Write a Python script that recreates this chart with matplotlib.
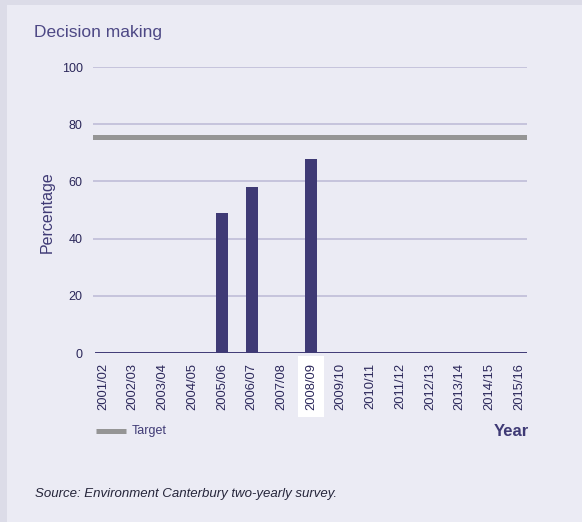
import matplotlib
matplotlib.use("Agg")
import matplotlib.pyplot as plt
from matplotlib.patches import Rectangle
from matplotlib.lines import Line2D

years = ["2001/02", "2002/03", "2003/04", "2004/05", "2005/06", "2006/07", "2007/08",
         "2008/09", "2009/10", "2010/11", "2011/12", "2012/13", "2013/14", "2014/15", "2015/16"]
values = [0, 0, 0, 0, 49, 58, 0, 68, 0, 0, 0, 0, 0, 0, 0]
target = 75.5
yticks = [0, 20, 40, 60, 80, 100]
highlight = "2008/09"

plt.rcParams['font.family'] = ['Liberation Sans', 'DejaVu Sans']

W, H = 582, 522
fig = plt.figure(figsize=(W / 100, H / 100), dpi=100)
fig.patch.set_facecolor("#dcdce8")
fig.patches.append(Rectangle((7 / W, 0), 1 - 7 / W, 1 - 5 / H, transform=fig.transFigure,
                             facecolor="#ebebf4", edgecolor="none", zorder=-5))

ax = fig.add_axes([93 / W, 169 / H, 434 / W, 286 / H])
ax.set_zorder(2)
ax.set_facecolor("none")
bar_color = "#3f3a75"
xs = list(range(len(years)))
ax.bar(xs, values, width=0.41, color=bar_color, zorder=3)
ax.set_xlim(-0.34, len(years) - 1 + 0.27)
ax.set_ylim(0, 100)
for t in yticks[1:]:
    ax.axhline(t, color="#c3c0da", lw=1.3, zorder=1)
ax.axhline(0, xmin=3.5 / 434, color=bar_color, lw=1.4, zorder=4)
ax.axhline(target, color="#959595", lw=3.6, zorder=2)

for s in ax.spines.values():
    s.set_visible(False)
ax.set_yticks(yticks)
ax.set_yticklabels([str(t) for t in yticks], fontsize=9, color="#2b275a")
ax.set_xticks(xs)
ax.set_xticklabels(years, rotation=90, fontsize=9.3, color="#2b275a")
ax.tick_params(axis='both', length=0)
ax.tick_params(axis='y', pad=7.5)
ax.tick_params(axis='x', pad=7)
for lbl in ax.get_xticklabels():
    if lbl.get_text() == highlight:
        lbl.set_bbox(dict(facecolor="white", edgecolor="none", pad=5))

ax.set_ylabel("Percentage", fontsize=11.5, color="#3f3a75")
ax.yaxis.set_label_coords(47.5 / W, 1 - 212 / H, transform=fig.transFigure)
ax.yaxis.label.set_va("center")

fig.text(34 / W, 1 - 33 / H, "Decision making", fontsize=12.5, color="#4d4885",
         ha="left", va="center")
fig.text(529 / W, 1 - 432 / H, "Year", fontsize=12, color="#3f3a75", weight="bold",
         ha="right", va="center")
fig.add_artist(Line2D([96 / W, 126 / W], [1 - 431 / H, 1 - 431 / H], transform=fig.transFigure,
                      color="#959595", lw=3.6, solid_capstyle="butt"))
fig.text(132 / W, 1 - 431 / H, "Target", fontsize=9, color="#3f3a75", ha="left", va="center")
fig.text(35 / W, 1 - 494 / H, "Source: Environment Canterbury two-yearly survey.",
         fontsize=9.5, style="italic", color="#25253a", ha="left", va="center")

fig.savefig("out.png", dpi=100, facecolor=fig.get_facecolor())
